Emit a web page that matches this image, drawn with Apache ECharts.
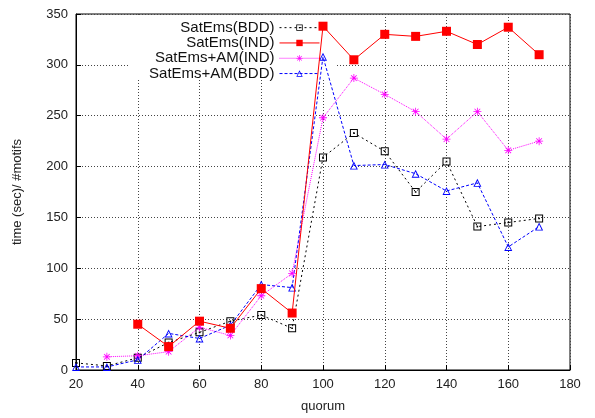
<!DOCTYPE html>
<html>
<head>
<meta charset="utf-8">
<script src="https://cdn.jsdelivr.net/npm/echarts@6/dist/echarts.min.js"></script>
<style>
html, body { margin: 0; padding: 0; background: #fff; }
#chart { width: 595px; height: 418px; }
</style>
</head>
<body>
<div id="chart"></div>
<script>
var chart = echarts.init(document.getElementById('chart'));

// quorum values on the x axis
var quorum = [20, 30, 40, 50, 60, 70, 80, 90, 100, 110, 120, 130, 140, 150, 160, 170];
// time (sec) / #motifs, null where the series has no point
var satBDD   = [7, 4, 12, 27, 37, 48, 54, 41, 209, 233, 215, 175, 205, 141, 145, 149];
var satIND   = [null, null, 45, 23, 48, 41, 80, 56, 338, 305, 330, 328, 333, 320, 337, 310];
var amIND    = [null, 13, 14, 18, 42, 34, 73, 95, 248, 287, 271, 254, 227, 254, 216, 225];
var amBDD    = [3, 3, 10, 36, 31, 44, 84, 81, 308, 201, 202, 193, 176, 184, 121, 141];

function pairs(vals) {
    var out = [];
    vals.forEach(function (v, i) {
        if (v !== null) out.push([quorum[i], v]);
    });
    return out;
}

// asterisk marker (gnuplot point type 3)
var asterisk = 'path://M9,0 L11,0 L11,7.6 L16.4,2.2 L17.8,3.6 L12.4,9 L20,9 L20,11 L12.4,11 L17.8,16.4 L16.4,17.8 L11,12.4 L11,20 L9,20 L9,12.4 L3.6,17.8 L2.2,16.4 L7.6,11 L0,11 L0,9 L7.6,9 L2.2,3.6 L3.6,2.2 L9,7.6 Z';
// open square with a dot in the middle (gnuplot point type 4)
var dotSquare = 'path://M0,0 L20,0 L20,20 L0,20 Z M2.5,2.5 L2.5,17.5 L17.5,17.5 L17.5,2.5 Z M8,8 L8,12 L12,12 L12,8 Z';
// open triangle (gnuplot point type 8)
var openTri = 'path://M10,0 L20,18 L0,18 Z M10,4.5 L3.6,16 L16.4,16 Z';

var font = 'Liberation Sans, Arial, sans-serif';

option = {
    backgroundColor: '#fff',
    animation: false,
    textStyle: { fontFamily: font, color: '#222' },
    grid: {
        left: 76,
        right: 25,
        top: 14,
        bottom: 48,
        show: true,
        borderColor: '#000',
        borderWidth: 1
    },
    legend: {
        orient: 'vertical',
        align: 'right',
        right: 270,
        top: 15,
        itemWidth: 40,
        itemHeight: 8,
        itemGap: 0,
        lineStyle: { width: 1 },
        textStyle: { fontSize: 15, color: '#111', fontFamily: font, lineHeight: 15.3 },
        data: ['SatEms(BDD)', 'SatEms(IND)', 'SatEms+AM(IND)', 'SatEms+AM(BDD)']
    },
    // white key box hides the grid lines but not the data
    graphic: [{
        type: 'rect',
        z: 1,
        silent: true,
        shape: { x: 130, y: 15, width: 205, height: 65 },
        style: { fill: '#fff' }
    }],
    xAxis: {
        type: 'value',
        min: 20,
        max: 180,
        interval: 20,
        name: 'quorum',
        nameLocation: 'middle',
        nameGap: 30,
        nameTextStyle: { fontSize: 13, color: '#222' },
        axisLine: { show: true, onZero: false, lineStyle: { color: '#000', width: 1 } },
        axisTick: { show: true, inside: true, length: 5, lineStyle: { color: '#000' } },
        axisLabel: { fontSize: 13, color: '#222', margin: 8 },
        splitLine: { show: true, lineStyle: { color: '#444', type: [1, 2], width: 1 } }
    },
    yAxis: {
        type: 'value',
        min: 0,
        max: 350,
        interval: 50,
        name: 'time (sec)/ #motifs',
        nameLocation: 'middle',
        nameGap: 52,
        nameTextStyle: { fontSize: 13, color: '#222' },
        axisLine: { show: true, lineStyle: { color: '#000', width: 1 } },
        axisTick: { show: true, inside: true, length: 5, lineStyle: { color: '#000' } },
        axisLabel: { fontSize: 13, color: '#222', margin: 8 },
        splitLine: { show: true, lineStyle: { color: '#444', type: [1, 2], width: 1 } }
    },
    series: [{
        name: 'SatEms(BDD)',
        type: 'line',
        z: 3,
        data: pairs(satBDD),
        symbol: dotSquare,
        symbolSize: 8,
        itemStyle: { color: '#000' },
        lineStyle: { color: '#000', width: 1, type: [2, 3] }
    }, {
        name: 'SatEms(IND)',
        type: 'line',
        z: 4,
        data: pairs(satIND),
        symbol: 'rect',
        symbolSize: 9,
        itemStyle: { color: '#ff0000' },
        lineStyle: { color: '#ff0000', width: 1 }
    }, {
        name: 'SatEms+AM(IND)',
        type: 'line',
        z: 3,
        data: pairs(amIND),
        symbol: asterisk,
        symbolSize: 8,
        itemStyle: { color: '#ff00ff' },
        lineStyle: { color: '#ff00ff', width: 1, type: [1, 1] }
    }, {
        name: 'SatEms+AM(BDD)',
        type: 'line',
        z: 3,
        data: pairs(amBDD),
        symbol: openTri,
        symbolSize: 8,
        itemStyle: { color: '#0000ff' },
        lineStyle: { color: '#0000ff', width: 1, type: [3, 2] }
    }]
};

chart.setOption(option);
</script>
</body>
</html>
